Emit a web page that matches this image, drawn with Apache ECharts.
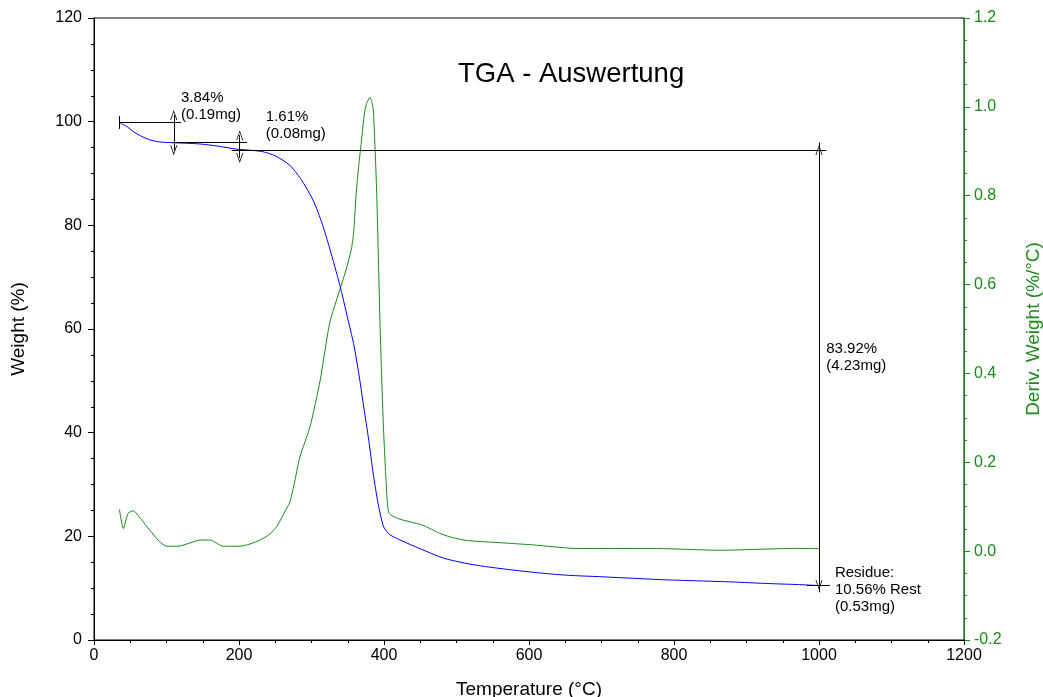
<!DOCTYPE html>
<html>
<head>
<meta charset="utf-8">
<script src="https://cdn.jsdelivr.net/npm/echarts@6/dist/echarts.min.js"></script>
<style>
html,body{margin:0;padding:0;background:#fff;overflow:hidden;width:100%;height:100%;}
#chart{width:1043px;height:697px;overflow:hidden;}
</style>
</head>
<body>
<div id="chart"></div>
<script>
// TGA weight curve (°C, %)
var tgaTemp = [35, 45, 54, 65, 77, 90, 107, 125, 146, 170, 197, 215, 233, 250, 270, 285, 302, 315, 325, 339, 350, 358, 365, 372, 379, 385, 392, 399, 404, 408, 422, 450, 482, 520, 560, 610, 652, 700, 744, 790, 836, 880, 928, 970, 1000];
var tgaWeight = [99.8, 99.1, 98.1, 97.2, 96.5, 96.1, 95.95, 95.85, 95.7, 95.3, 94.7, 94.5, 94.2, 93.4, 91.6, 89.0, 84.9, 80.2, 75.6, 68.5, 62.0, 57.2, 51.6, 45.0, 38.5, 32.2, 26.2, 22.0, 20.9, 20.3, 19.3, 17.6, 15.8, 14.6, 13.8, 13.0, 12.5, 12.2, 11.9, 11.6, 11.4, 11.2, 10.9, 10.7, 10.5];
// DTG derivative curve (°C, %/°C)
var dtgTemp = [35, 40.5, 47, 54, 65, 77, 90, 100, 116, 130, 146, 160, 178, 201, 215, 229, 242, 252, 262, 270, 276, 284, 298, 312, 325, 339, 348, 355, 358, 362, 366, 369, 373, 376, 380.7, 383, 385.3, 389.8, 394.5, 399, 403.6, 407, 422, 436, 454, 477, 491, 514, 560, 606, 666, 772, 863, 965, 1000];
var dtgDeriv = [0.094, 0.051, 0.085, 0.091, 0.072, 0.047, 0.022, 0.011, 0.011, 0.017, 0.025, 0.025, 0.011, 0.011, 0.016, 0.025, 0.038, 0.055, 0.085, 0.110, 0.150, 0.212, 0.280, 0.385, 0.513, 0.588, 0.635, 0.680, 0.715, 0.813, 0.880, 0.925, 0.985, 1.008, 1.021, 1.012, 0.993, 0.813, 0.513, 0.288, 0.137, 0.085, 0.072, 0.066, 0.058, 0.040, 0.032, 0.024, 0.019, 0.014, 0.006, 0.006, 0.002, 0.006, 0.006];
// Axis ticks
var xTicks = [0, 200, 400, 600, 800, 1000, 1200];
var yLeftTicks = [0, 20, 40, 60, 80, 100, 120];
var yRightTicks = [-0.2, 0.0, 0.2, 0.4, 0.6, 0.8, 1.0, 1.2];
// Annotation segments: [x1, y1, x2, y2, startMark, endMark]
var annoSegments = [
  [35, 99.8, 120, 99.8, 'none', 'none'],
  [35, 98.6, 35, 101.1, 'none', 'none'],
  [107, 96.0, 211, 96.0, 'none', 'none'],
  [110, 101.3, 110, 94.5, 'arrow', 'arrow'],
  [190, 94.55, 1010, 94.55, 'none', 'none'],
  [201, 97.4, 201, 93.0, 'arrow', 'arrow'],
  [1000, 96.0, 1000, 94.55, 'none', 'none'],
  [1000, 94.55, 1000, 10.6, 'arrow', 'arrow'],
  [1000, 10.6, 1000, 9.2, 'none', 'none'],
  [983, 10.6, 1015, 10.6, 'none', 'none']
];
// Annotation texts: [x, y, text]
var annoTexts = [
  [120, 106.2, '3.84%\n(0.19mg)'],
  [237, 102.6, '1.61%\n(0.08mg)'],
  [1010, 57.8, '83.92%\n(4.23mg)'],
  [1022, 14.6, 'Residue:\n10.56% Rest\n(0.53mg)']
];

var FONT = '"Liberation Sans", Arial, sans-serif';
var GREEN = '#1a8a1a';
var chevron = 'path://M5,0 L10,12 L8.8,12 L5,2.6 L1.2,12 L0,12 Z';

function pairs(xs, ys) { return xs.map(function (x, i) { return [x, ys[i]]; }); }

var markLineData = annoSegments.map(function (s) {
  return [
    { coord: [s[0], s[1]], symbol: s[4] === 'arrow' ? chevron : 'none', symbolSize: [7, 10] },
    { coord: [s[2], s[3]], symbol: s[5] === 'arrow' ? chevron : 'none', symbolSize: [7, 10] }
  ];
});
var markPointData = annoTexts.map(function (t) {
  return { coord: [t[0], t[1]], name: t[2] };
});

var chart = echarts.init(document.getElementById('chart'), null, { renderer: 'canvas', width: 1043, height: 697 });
chart.setOption({
  animation: false,
  backgroundColor: '#fff',
  textStyle: { fontFamily: FONT },
  title: {
    text: 'TGA - Auswertung',
    left: 453, top: 55,
    textStyle: { fontFamily: FONT, fontSize: 27.5, fontWeight: 'normal', color: '#000' }
  },
  grid: { left: 94, right: 79, top: 18, bottom: 57, show: true, borderColor: '#000', borderWidth: 1,
          containLabel: false, outerBoundsMode: 'none' },
  xAxis: {
    type: 'value', min: xTicks[0], max: xTicks[xTicks.length - 1], interval: xTicks[1] - xTicks[0],
    name: 'Temperature (°C)', nameLocation: 'middle', nameGap: 40,
    nameTextStyle: { fontFamily: FONT, fontSize: 19, color: '#000' },
    axisLine: { show: true, lineStyle: { color: '#000', width: 1 } },
    axisTick: { show: true, inside: false, length: 5, lineStyle: { color: '#000' } },
    minorTick: { show: true, splitNumber: 4, length: 3, lineStyle: { color: '#000' } },
    splitLine: { show: false },
    axisLabel: { fontFamily: FONT, fontSize: 16, color: '#000', margin: 8,
      formatter: function (v) { return String(v); } }
  },
  yAxis: [
    {
      type: 'value', min: yLeftTicks[0], max: yLeftTicks[yLeftTicks.length - 1], interval: yLeftTicks[1] - yLeftTicks[0],
      name: 'Weight (%)', nameLocation: 'middle', nameGap: 66,
      nameTextStyle: { fontFamily: FONT, fontSize: 19, color: '#000' },
      axisLine: { show: true, lineStyle: { color: '#000', width: 1 } },
      axisTick: { show: true, inside: false, length: 6, lineStyle: { color: '#000' } },
      minorTick: { show: true, splitNumber: 4, length: 3, lineStyle: { color: '#000' } },
      splitLine: { show: false },
      axisLabel: { fontFamily: FONT, fontSize: 16, color: '#000', margin: 12,
        formatter: function (v) { return String(v); } }
    },
    {
      type: 'value', position: 'right', min: yRightTicks[0], max: yRightTicks[yRightTicks.length - 1], interval: 0.2,
      name: 'Deriv. Weight (%/°C)', nameLocation: 'middle', nameGap: 60,
      nameTextStyle: { fontFamily: FONT, fontSize: 19, color: GREEN },
      axisLine: { show: true, lineStyle: { color: GREEN, width: 1 } },
      axisTick: { show: true, inside: false, length: 6, lineStyle: { color: GREEN } },
      minorTick: { show: true, splitNumber: 4, length: 3, lineStyle: { color: GREEN } },
      splitLine: { show: false },
      axisLabel: { fontFamily: FONT, fontSize: 16, color: GREEN, margin: 10,
        formatter: function (v) { return v.toFixed(1); } }
    }
  ],
  series: [
    {
      name: 'Weight', type: 'line', xAxisIndex: 0, yAxisIndex: 0,
      data: pairs(tgaTemp, tgaWeight), smooth: 0.25, showSymbol: false, symbol: 'none',
      lineStyle: { color: '#0000ff', width: 1 }, z: 3,
      markLine: {
        silent: true, animation: false, symbol: 'none',
        lineStyle: { color: '#000', width: 1, type: 'solid' },
        label: { show: false },
        emphasis: { disabled: true },
        data: markLineData
      },
      markPoint: {
        silent: true, animation: false, symbol: 'circle', symbolSize: 0,
        itemStyle: { color: 'transparent' },
        label: {
          show: true, position: [0, 0], align: 'left', verticalAlign: 'top',
          formatter: '{b}', fontFamily: FONT, fontSize: 15, lineHeight: 17, color: '#000'
        },
        data: markPointData
      }
    },
    {
      name: 'Deriv. Weight', type: 'line', xAxisIndex: 0, yAxisIndex: 1,
      data: pairs(dtgTemp, dtgDeriv), smooth: 0.2, showSymbol: false, symbol: 'none',
      lineStyle: { color: GREEN, width: 1 }, z: 2
    }
  ]
});
</script>
</body>
</html>
